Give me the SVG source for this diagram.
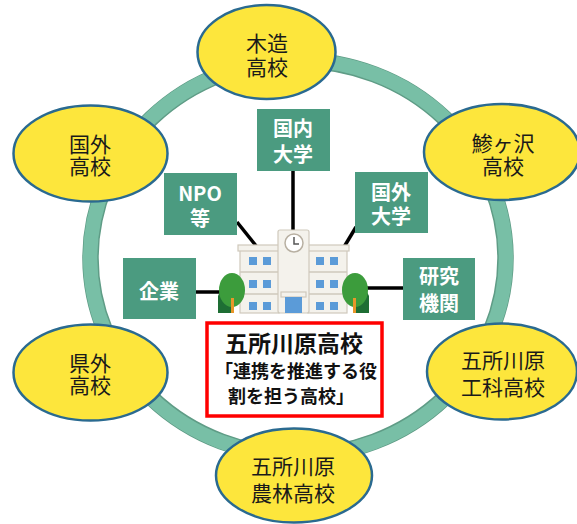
<svg xmlns="http://www.w3.org/2000/svg" width="577" height="524" viewBox="0 0 577 524">
  <style>
    .ring { fill: none; stroke: #78bfa6; stroke-width: 15; }
    .ring-edge { fill: none; stroke: #5f9c86; stroke-width: 1.5; }
    .school { fill: #fde63c; stroke: #2a6a90; stroke-width: 2.5; }
    .school-t { font-family: "Noto Sans CJK JP", "Noto Sans", sans-serif; font-size: 21px; fill: #1a1a1a; text-anchor: middle; dominant-baseline: central; }
    .partner { fill: #4b9b80; }
    .partner-t { font-family: "Noto Sans CJK JP", "Noto Sans", sans-serif; font-size: 20px; font-weight: bold; fill: #ffffff; text-anchor: middle; dominant-baseline: central; }
    .link { stroke: #000000; stroke-width: 3.5; fill: none; }
    .win { fill: #5b9bd8; }
    .wall { fill: #f4f2ec; stroke: #cfc9bc; stroke-width: 1.2; }
    .floor { stroke: #cfc9bc; stroke-width: 1.5; }
    .main-t { font-family: "Noto Sans CJK JP", "Noto Sans", sans-serif; font-weight: bold; fill: #111111; dominant-baseline: central; }
  </style>

  <!-- network ring -->
  <g id="ring">
    <ellipse class="ring-edge" cx="298" cy="258" rx="215" ry="205"/>
    <ellipse class="ring" cx="298" cy="258" rx="207.5" ry="197.5"/>
    <ellipse class="ring-edge" cx="298" cy="258" rx="200" ry="190"/>
  </g>

  <!-- partner schools -->
  <g id="kizukuri">
    <ellipse class="school" cx="266.5" cy="52" rx="69" ry="47"/>
    <text class="school-t" x="267" y="42">木造<tspan x="267" y="66">高校</tspan></text>
  </g>
  <g id="kokugai-koko">
    <ellipse class="school" cx="90.5" cy="153.5" rx="77" ry="48"/>
    <text class="school-t" x="90" y="143">国外<tspan x="90" y="165">高校</tspan></text>
  </g>
  <g id="ajigasawa">
    <ellipse class="school" cx="502" cy="152" rx="78" ry="48"/>
    <text class="school-t" x="503" y="142">鯵ヶ沢<tspan x="503" y="165">高校</tspan></text>
  </g>
  <g id="kengai">
    <ellipse class="school" cx="90.5" cy="372.5" rx="77" ry="48"/>
    <text class="school-t" x="90" y="362">県外<tspan x="90" y="384">高校</tspan></text>
  </g>
  <g id="koka">
    <ellipse class="school" cx="502" cy="371.5" rx="75" ry="48"/>
    <text class="school-t" x="503" y="359">五所川原<tspan x="503" y="386">工科高校</tspan></text>
  </g>
  <g id="norin">
    <ellipse class="school" cx="294" cy="475.5" rx="78" ry="47"/>
    <text class="school-t" x="293" y="465">五所川原<tspan x="293" y="492">農林高校</tspan></text>
  </g>

  <!-- connectors -->
  <g id="links">
    <line class="link" x1="293" y1="171" x2="293" y2="233"/>
    <line class="link" x1="237" y1="222" x2="257" y2="247"/>
    <line class="link" x1="356" y1="227" x2="344" y2="247"/>
    <line class="link" x1="196" y1="292" x2="224" y2="292"/>
    <line class="link" x1="364" y1="288" x2="403" y2="288"/>
  </g>

  <!-- partner organisations -->
  <g id="kokunai-daigaku">
    <rect class="partner" x="257" y="109" width="73" height="62"/>
    <text class="partner-t" x="293" y="127">国内<tspan x="293" y="153">大学</tspan></text>
  </g>
  <g id="npo">
    <rect class="partner" x="164" y="173" width="73" height="62"/>
    <text class="partner-t" x="200" y="192">NPO<tspan x="200" y="217">等</tspan></text>
  </g>
  <g id="kokugai-daigaku">
    <rect class="partner" x="355" y="172" width="73" height="61"/>
    <text class="partner-t" x="391" y="191">国外<tspan x="391" y="215">大学</tspan></text>
  </g>
  <g id="kigyo">
    <rect class="partner" x="123" y="258" width="73" height="61"/>
    <text class="partner-t" x="159" y="290">企業</text>
  </g>
  <g id="kenkyu">
    <rect class="partner" x="403" y="258" width="72" height="62"/>
    <text class="partner-t" x="439" y="275">研究<tspan x="439" y="302">機関</tspan></text>
  </g>

  <!-- school building -->
  <g id="building">
    <!-- wings -->
    <rect class="wall" x="240" y="250" width="39" height="63"/>
    <rect class="wall" x="308" y="250" width="39" height="63"/>
    <rect class="wall" x="238" y="245" width="42" height="6"/>
    <rect class="wall" x="307" y="245" width="42" height="6"/>
    <line class="floor" x1="240" y1="272" x2="279" y2="272"/>
    <line class="floor" x1="240" y1="294" x2="279" y2="294"/>
    <line class="floor" x1="308" y1="272" x2="347" y2="272"/>
    <line class="floor" x1="308" y1="294" x2="347" y2="294"/>
    <!-- windows -->
    <rect class="win" x="249" y="257" width="8" height="8"/>
    <rect class="win" x="263" y="257" width="8" height="8"/>
    <rect class="win" x="249" y="280" width="8" height="8"/>
    <rect class="win" x="263" y="280" width="8" height="8"/>
    <rect class="win" x="249" y="302" width="8" height="8"/>
    <rect class="win" x="263" y="302" width="8" height="8"/>
    <rect class="win" x="316" y="257" width="8" height="8"/>
    <rect class="win" x="330" y="257" width="8" height="8"/>
    <rect class="win" x="316" y="280" width="8" height="8"/>
    <rect class="win" x="330" y="280" width="8" height="8"/>
    <rect class="win" x="316" y="302" width="8" height="8"/>
    <rect class="win" x="330" y="302" width="8" height="8"/>
    <!-- clock tower -->
    <rect class="wall" x="278" y="230" width="31" height="83" rx="2"/>
    <circle cx="294" cy="243" r="9" fill="#ffffff" stroke="#b8b0a2" stroke-width="1.5"/>
    <path d="M294 237 V244 H299" fill="none" stroke="#555555" stroke-width="1.5"/>
    <!-- entrance -->
    <rect class="wall" x="281" y="292" width="25" height="5"/>
    <rect class="win" x="285" y="297" width="17" height="16"/>
    <!-- trees -->
    <path d="M218 313 V296 L224 282 L231 296 V313 Z" fill="#1e6e34"/>
    <ellipse cx="232" cy="290" rx="13" ry="17" fill="#3c9c3c"/>
    <rect x="231" y="298" width="3" height="15" fill="#e8962a"/>
    <path d="M356 313 V296 L362 282 L369 296 V313 Z" fill="#1e6e34"/>
    <ellipse cx="355" cy="290" rx="13" ry="17" fill="#3c9c3c"/>
    <rect x="353" y="298" width="3" height="15" fill="#e8962a"/>
  </g>

  <!-- central school -->
  <g id="goshogawara">
    <rect x="207" y="323" width="175" height="93" fill="#ffffff" stroke="#ff0000" stroke-width="3.5"/>
    <text class="main-t" x="294" y="342" font-size="23" text-anchor="middle">五所川原高校</text>
    <text class="main-t" x="215" y="370" font-size="18">「連携を推進する役<tspan x="228" y="395">割を担う高校」</tspan></text>
  </g>
</svg>
